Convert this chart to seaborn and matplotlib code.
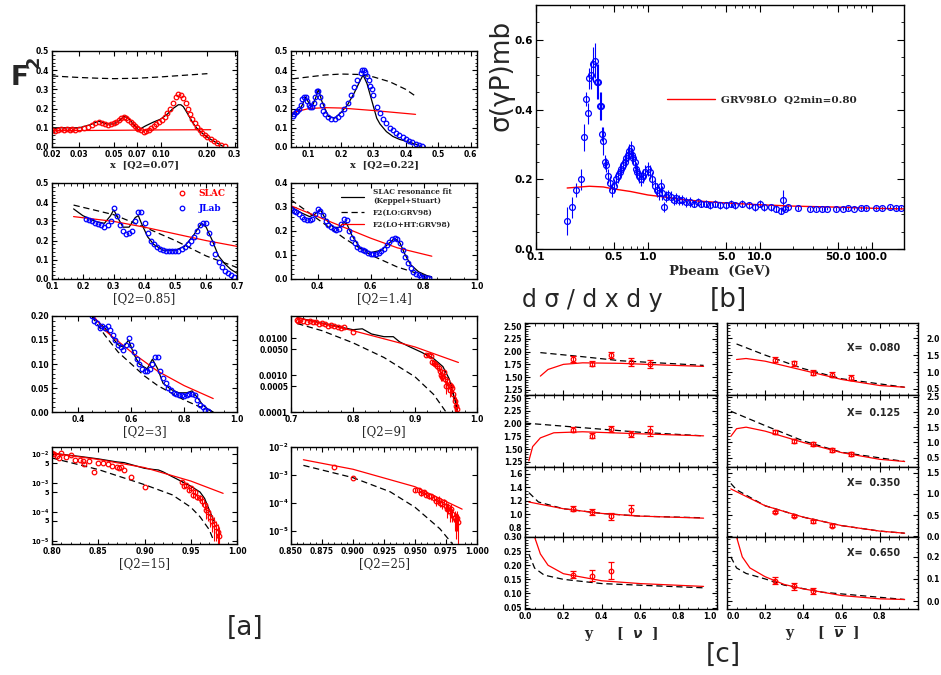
import matplotlib
matplotlib.use("Agg")
import matplotlib.pyplot as plt
import matplotlib.ticker as mticker
from matplotlib.lines import Line2D
import seaborn as sns

# ---------------- panel [a] : F2 vs x ----------------
A1_SLAC_X = [0.020, 0.021, 0.022, 0.023, 0.024, 0.025, 0.026, 0.027, 0.028, 0.030,
             0.032, 0.034, 0.036, 0.038, 0.040, 0.042, 0.044, 0.046, 0.048, 0.050,
             0.052, 0.054, 0.056, 0.058, 0.060, 0.062, 0.064, 0.066, 0.068, 0.070,
             0.072, 0.075, 0.078, 0.081, 0.084, 0.087, 0.090, 0.094, 0.098, 0.102,
             0.106, 0.110, 0.115, 0.120, 0.125, 0.130, 0.135, 0.140, 0.145, 0.150,
             0.155, 0.160, 0.166, 0.172, 0.178, 0.185, 0.192, 0.200, 0.210, 0.220,
             0.232, 0.245, 0.260]
A1_SLAC_Y = [0.090, 0.085, 0.090, 0.095, 0.088, 0.092, 0.090, 0.095, 0.090, 0.095,
             0.100, 0.105, 0.115, 0.125, 0.130, 0.125, 0.120, 0.115, 0.120, 0.125,
             0.130, 0.140, 0.150, 0.155, 0.150, 0.140, 0.130, 0.120, 0.110, 0.100,
             0.095, 0.090, 0.080, 0.085, 0.090, 0.100, 0.110, 0.120, 0.130, 0.140,
             0.155, 0.175, 0.200, 0.230, 0.260, 0.275, 0.270, 0.255, 0.230, 0.200,
             0.170, 0.145, 0.125, 0.105, 0.090, 0.075, 0.060, 0.050, 0.040, 0.030,
             0.020, 0.010, 0.005]
A1_FIT_X = [0.02, 0.025, 0.03, 0.035, 0.04, 0.045, 0.05, 0.055, 0.058, 0.062, 0.066, 0.07,
            0.073, 0.076, 0.08, 0.09, 0.10, 0.11, 0.12, 0.13, 0.135, 0.14, 0.15, 0.16,
            0.17, 0.18, 0.20, 0.22, 0.25]
A1_FIT_Y = [0.10, 0.10, 0.10, 0.115, 0.135, 0.12, 0.12, 0.14, 0.16, 0.15, 0.125, 0.10,
            0.085, 0.10, 0.11, 0.13, 0.145, 0.17, 0.20, 0.22, 0.22, 0.21, 0.17, 0.13,
            0.10, 0.08, 0.05, 0.03, 0.005]
A1_LO_X = [0.02, 0.03, 0.04, 0.05, 0.07, 0.10, 0.15, 0.20]
A1_LO_Y = [0.370, 0.362, 0.358, 0.356, 0.358, 0.365, 0.375, 0.382]
A1_HT_X = [0.02, 0.05, 0.10, 0.21]
A1_HT_Y = [0.085, 0.087, 0.089, 0.090]

A2_JLAB_X = [0.05, 0.055, 0.06, 0.065, 0.07, 0.075, 0.08, 0.085, 0.09, 0.095,
             0.10, 0.105, 0.11, 0.115, 0.12, 0.125, 0.13, 0.135, 0.14, 0.145,
             0.15, 0.16, 0.17, 0.18, 0.19, 0.20, 0.21, 0.22, 0.23, 0.24,
             0.25, 0.26, 0.265, 0.27, 0.275, 0.28, 0.285, 0.29, 0.295, 0.30,
             0.31, 0.32, 0.33, 0.34, 0.35, 0.36, 0.37, 0.38, 0.39, 0.40,
             0.41, 0.42, 0.43, 0.44, 0.45]
A2_JLAB_Y = [0.16, 0.17, 0.18, 0.19, 0.20, 0.22, 0.25, 0.26, 0.26, 0.24,
             0.22, 0.21, 0.21, 0.23, 0.26, 0.29, 0.29, 0.26, 0.22, 0.19,
             0.17, 0.155, 0.145, 0.145, 0.155, 0.17, 0.20, 0.23, 0.27, 0.31,
             0.35, 0.385, 0.40, 0.40, 0.39, 0.37, 0.35, 0.32, 0.30, 0.27,
             0.21, 0.175, 0.145, 0.125, 0.10, 0.09, 0.075, 0.06, 0.05, 0.04,
             0.03, 0.025, 0.015, 0.01, 0.005]
A2_FIT_X = [0.05, 0.07, 0.08, 0.09, 0.10, 0.11, 0.12, 0.13, 0.14, 0.16, 0.18, 0.20, 0.22,
            0.24, 0.26, 0.268, 0.28, 0.29, 0.30, 0.31, 0.32, 0.34, 0.36, 0.38, 0.40, 0.42, 0.44]
A2_FIT_Y = [0.17, 0.19, 0.22, 0.26, 0.23, 0.21, 0.25, 0.30, 0.24, 0.16, 0.15, 0.18, 0.22,
            0.28, 0.35, 0.375, 0.33, 0.27, 0.21, 0.15, 0.12, 0.08, 0.055, 0.04, 0.03, 0.02, 0.01]
A2_LO_X = [0.05, 0.10, 0.15, 0.20, 0.25, 0.30, 0.35, 0.40, 0.43]
A2_LO_Y = [0.355, 0.365, 0.375, 0.380, 0.378, 0.365, 0.340, 0.300, 0.265]
A2_HT_X = [0.05, 0.10, 0.15, 0.20, 0.30, 0.43]
A2_HT_Y = [0.18, 0.20, 0.205, 0.203, 0.19, 0.17]

A3_JLAB_X = [0.21, 0.22, 0.23, 0.24, 0.25, 0.26, 0.27, 0.28, 0.29, 0.30,
             0.31, 0.32, 0.33, 0.34, 0.35, 0.36, 0.37, 0.38, 0.39, 0.40,
             0.41, 0.42, 0.43, 0.44, 0.45, 0.46, 0.47, 0.48, 0.49, 0.50,
             0.51, 0.52, 0.53, 0.54, 0.55, 0.56, 0.57, 0.58, 0.59, 0.60,
             0.61, 0.62, 0.63, 0.64, 0.65, 0.66, 0.67, 0.68, 0.69]
A3_JLAB_Y = [0.31, 0.305, 0.30, 0.29, 0.285, 0.28, 0.27, 0.28, 0.30, 0.37,
             0.33, 0.28, 0.25, 0.235, 0.24, 0.25, 0.30, 0.35, 0.35, 0.29,
             0.24, 0.20, 0.18, 0.165, 0.155, 0.15, 0.148, 0.146, 0.145, 0.145,
             0.148, 0.155, 0.165, 0.18, 0.20, 0.22, 0.25, 0.28, 0.29, 0.29,
             0.24, 0.19, 0.13, 0.09, 0.06, 0.04, 0.03, 0.02, 0.01]
A3_FIT_X = [0.17, 0.20, 0.24, 0.27, 0.29, 0.30, 0.31, 0.33, 0.35, 0.37, 0.38, 0.39, 0.41,
            0.43, 0.46, 0.50, 0.53, 0.56, 0.585, 0.60, 0.62, 0.64, 0.66, 0.68, 0.70]
A3_FIT_Y = [0.365, 0.33, 0.30, 0.29, 0.33, 0.36, 0.33, 0.27, 0.27, 0.32, 0.33, 0.29, 0.22,
            0.18, 0.15, 0.15, 0.17, 0.23, 0.29, 0.27, 0.20, 0.12, 0.08, 0.05, 0.03]
A3_LO_X = [0.17, 0.30, 0.40, 0.50, 0.60, 0.70]
A3_LO_Y = [0.385, 0.335, 0.27, 0.20, 0.12, 0.06]
A3_HT_X = [0.17, 0.30, 0.40, 0.50, 0.60, 0.70]
A3_HT_Y = [0.325, 0.30, 0.27, 0.235, 0.20, 0.17]

A4_JLAB_X = [0.30, 0.31, 0.32, 0.33, 0.34, 0.35, 0.36, 0.37, 0.38, 0.39,
             0.40, 0.41, 0.42, 0.43, 0.44, 0.45, 0.46, 0.47, 0.48, 0.49,
             0.50, 0.51, 0.52, 0.53, 0.54, 0.55, 0.56, 0.57, 0.58, 0.59,
             0.60, 0.61, 0.62, 0.63, 0.64, 0.65, 0.66, 0.67, 0.68, 0.69,
             0.70, 0.71, 0.72, 0.73, 0.74, 0.75, 0.76, 0.77, 0.78, 0.79,
             0.80, 0.81, 0.82]
A4_JLAB_Y = [0.29, 0.285, 0.28, 0.27, 0.26, 0.25, 0.245, 0.245, 0.25, 0.27,
             0.29, 0.285, 0.265, 0.24, 0.225, 0.215, 0.21, 0.205, 0.21, 0.23,
             0.25, 0.245, 0.20, 0.17, 0.15, 0.135, 0.125, 0.12, 0.115, 0.11,
             0.105, 0.105, 0.105, 0.11, 0.115, 0.125, 0.14, 0.155, 0.165, 0.17,
             0.165, 0.15, 0.12, 0.09, 0.065, 0.045, 0.03, 0.02, 0.015, 0.01,
             0.008, 0.006, 0.005]
A4_FIT_X = [0.30, 0.34, 0.37, 0.39, 0.41, 0.43, 0.46, 0.48, 0.50, 0.51, 0.53, 0.56, 0.60,
            0.64, 0.67, 0.69, 0.71, 0.73, 0.75, 0.78, 0.81, 0.83]
A4_FIT_Y = [0.30, 0.275, 0.26, 0.27, 0.29, 0.25, 0.215, 0.215, 0.235, 0.23, 0.18, 0.13, 0.11,
            0.12, 0.15, 0.17, 0.15, 0.10, 0.06, 0.03, 0.015, 0.008]
A4_LO_X = [0.30, 0.40, 0.50, 0.60, 0.70, 0.80, 0.83]
A4_LO_Y = [0.33, 0.25, 0.17, 0.10, 0.05, 0.015, 0.008]
A4_HT_X = [0.30, 0.40, 0.50, 0.60, 0.70, 0.83]
A4_HT_Y = [0.305, 0.26, 0.215, 0.17, 0.13, 0.095]

A5_JLAB_X = [0.45, 0.46, 0.47, 0.48, 0.49, 0.50, 0.51, 0.52, 0.53, 0.54,
             0.55, 0.56, 0.57, 0.58, 0.59, 0.60, 0.61, 0.62, 0.63, 0.64,
             0.65, 0.66, 0.67, 0.68, 0.69, 0.70, 0.71, 0.72, 0.73, 0.74,
             0.75, 0.76, 0.77, 0.78, 0.79, 0.80, 0.81, 0.82, 0.83, 0.84,
             0.85, 0.86, 0.87, 0.88, 0.89]
A5_JLAB_Y = [0.20, 0.19, 0.185, 0.175, 0.18, 0.175, 0.18, 0.17, 0.16, 0.15,
             0.14, 0.135, 0.13, 0.14, 0.155, 0.14, 0.125, 0.11, 0.10, 0.09,
             0.085, 0.085, 0.09, 0.10, 0.115, 0.115, 0.085, 0.07, 0.06, 0.05,
             0.045, 0.04, 0.037, 0.035, 0.035, 0.034, 0.036, 0.038, 0.037, 0.035,
             0.025, 0.015, 0.01, 0.005, 0.003]
A5_FIT_X = [0.45, 0.50, 0.55, 0.57, 0.59, 0.61, 0.63, 0.66, 0.68, 0.70, 0.72, 0.75, 0.78,
            0.81, 0.83, 0.85, 0.87, 0.89, 0.91]
A5_FIT_Y = [0.20, 0.175, 0.14, 0.135, 0.15, 0.12, 0.10, 0.09, 0.11, 0.09, 0.06, 0.047, 0.04,
            0.04, 0.044, 0.03, 0.015, 0.006, 0.0]
A5_LO_X = [0.45, 0.50, 0.55, 0.60, 0.65, 0.70, 0.75, 0.80, 0.85, 0.90]
A5_LO_Y = [0.20, 0.16, 0.125, 0.10, 0.075, 0.055, 0.04, 0.025, 0.013, 0.003]
A5_HT_X = [0.45, 0.50, 0.60, 0.70, 0.80, 0.91]
A5_HT_Y = [0.205, 0.17, 0.125, 0.085, 0.055, 0.028]

A6_SLAC_X = [0.71, 0.712, 0.715, 0.72, 0.725, 0.73, 0.735, 0.74, 0.745, 0.75,
             0.755, 0.76, 0.765, 0.77, 0.775, 0.78, 0.785, 0.80]
A6_SLAC_Y = [0.032, 0.030, 0.031, 0.030, 0.028, 0.029, 0.027, 0.028, 0.025, 0.026,
             0.024, 0.022, 0.023, 0.021, 0.020, 0.019, 0.020, 0.015]
A6_HI_X = [0.918, 0.922, 0.925, 0.928, 0.930, 0.932, 0.935, 0.938, 0.940, 0.942,
           0.944, 0.946, 0.948, 0.950, 0.952, 0.954, 0.956, 0.958, 0.960, 0.962,
           0.964, 0.966, 0.968]
A6_HI_Y = [0.0035, 0.0034, 0.0032, 0.0022, 0.0021, 0.0020, 0.0018, 0.0016, 0.0013, 0.0010,
           0.0009, 0.0012, 0.0008, 0.0005, 0.0007, 0.0005, 0.0004, 0.0005, 0.00045, 0.0003,
           0.0002, 0.00015, 0.00012]
A6_HI_ERR = [0.0003, 0.0003, 0.0003, 0.0003, 0.0003, 0.0003, 0.0003, 0.0003, 0.0003, 0.0003,
             0.0002, 0.0003, 0.0002, 0.0002, 0.0002, 0.00015, 0.00015, 0.00015, 0.00015, 0.0001,
             0.0001, 0.0001, 0.00008]
A6_FIT_X = [0.71, 0.74, 0.78, 0.80, 0.815, 0.83, 0.85, 0.865, 0.875, 0.89, 0.91, 0.93,
            0.945, 0.955, 0.962, 0.968]
A6_FIT_Y = [0.036, 0.028, 0.020, 0.017, 0.018, 0.013, 0.011, 0.011, 0.008, 0.006, 0.0042,
            0.0028, 0.0017, 0.0008, 0.0003, 0.00012]
A6_LO_X = [0.71, 0.75, 0.80, 0.85, 0.90, 0.93, 0.95]
A6_LO_Y = [0.025, 0.016, 0.0075, 0.003, 0.0009, 0.0003, 0.0001]
A6_HT_X = [0.71, 0.80, 0.90, 0.97]
A6_HT_Y = [0.036, 0.016, 0.0058, 0.0022]

A7_SLAC_X = [0.800, 0.802, 0.805, 0.808, 0.810, 0.815, 0.820, 0.825, 0.830, 0.833,
             0.835, 0.840, 0.845, 0.850, 0.855, 0.860, 0.865, 0.870, 0.872, 0.875,
             0.878, 0.885, 0.900]
A7_SLAC_Y = [0.011, 0.010, 0.0085, 0.0075, 0.011, 0.008, 0.0095, 0.0065, 0.0063, 0.006,
             0.0045, 0.006, 0.0025, 0.0052, 0.005, 0.0047, 0.004, 0.0038, 0.0033, 0.0036,
             0.003, 0.0017, 0.00075]
A7_HI_X = [0.940, 0.943, 0.945, 0.948, 0.950, 0.952, 0.955, 0.957, 0.960, 0.962,
           0.965, 0.967, 0.969, 0.971, 0.973, 0.975, 0.977, 0.979, 0.981]
A7_HI_Y = [0.0011, 0.0008, 0.0009, 0.0006, 0.0007, 0.0004, 0.0005, 0.00035, 0.0003, 0.00025,
           0.00018, 0.00012, 0.0001, 0.00007, 0.00005, 0.00004, 0.00003, 0.00002, 0.000015]
A7_HI_ERR = [0.0001, 0.0001, 0.0001, 0.0001, 0.0001, 0.0001, 0.0001, 0.00008, 0.00008, 0.00008,
             0.00006, 0.00006, 0.00005, 0.00004, 0.00003, 0.00003, 0.00002, 0.00002, 0.000015]
A7_FIT_X = [0.80, 0.83, 0.85, 0.87, 0.878, 0.885, 0.90, 0.91, 0.915, 0.92, 0.93, 0.95,
            0.96, 0.965, 0.97, 0.975]
A7_FIT_Y = [0.011, 0.0085, 0.007, 0.0055, 0.0052, 0.0045, 0.0033, 0.0030, 0.0029, 0.0025,
            0.0017, 0.0008, 0.0005, 0.0003, 0.00012, 0.00005]
A7_LO_X = [0.80, 0.85, 0.90, 0.93, 0.95, 0.96, 0.97, 0.975]
A7_LO_Y = [0.0075, 0.003, 0.0009, 0.0004, 0.00015, 0.00007, 0.000025, 0.00001]
A7_HT_X = [0.80, 0.85, 0.90, 0.95, 0.985]
A7_HT_Y = [0.011, 0.0067, 0.0035, 0.0012, 0.00045]

A8_SLAC_X = [0.885, 0.900]
A8_SLAC_Y = [0.0019, 0.0008]
A8_HI_X = [0.950, 0.953, 0.955, 0.957, 0.959, 0.961, 0.963, 0.965, 0.967, 0.969,
           0.970, 0.972, 0.973, 0.975, 0.976, 0.977, 0.978, 0.979, 0.980, 0.982,
           0.983, 0.984, 0.985]
A8_HI_Y = [0.0003, 0.00028, 0.00022, 0.00024, 0.0002, 0.00018, 0.00017, 0.00015, 0.00012, 0.00013,
           0.0001, 0.00009, 0.00011, 0.00008, 0.00006, 0.00007, 0.00005, 0.00006, 0.00004, 0.00003,
           0.000025, 0.00003, 0.00002]
A8_HI_ERR = [0.00005, 0.00005, 0.00004, 0.00004, 0.00004, 0.00004, 0.00004, 0.00004, 0.00004, 0.00004,
             0.00003, 0.00003, 0.00003, 0.00003, 0.00003, 0.00003, 0.00003, 0.00003, 0.00002, 0.00002,
             0.00002, 0.00002, 0.00002]
A8_LO_X = [0.86, 0.90, 0.93, 0.95, 0.97, 0.98]
A8_LO_Y = [0.0022, 0.0008, 0.00025, 0.00007, 0.000012, 0.0000035]
A8_HT_X = [0.86, 0.90, 0.95, 0.988]
A8_HT_Y = [0.0035, 0.0016, 0.00038, 0.00006]

# ---------------- panel [b] : photoproduction cross section ----------------
B_PBEAM = [0.19, 0.21, 0.23, 0.25, 0.27, 0.28, 0.29, 0.30, 0.31, 0.32,
           0.335, 0.35, 0.36, 0.37, 0.38, 0.39, 0.40, 0.41, 0.42, 0.44,
           0.46, 0.48, 0.50, 0.52, 0.54, 0.56, 0.58, 0.60, 0.62, 0.64,
           0.66, 0.68, 0.70, 0.72, 0.74, 0.76, 0.78, 0.80, 0.83, 0.86,
           0.90, 0.95, 1.00, 1.05, 1.10, 1.15, 1.20, 1.25, 1.30, 1.35,
           1.40, 1.45, 1.50, 1.60, 1.70, 1.80, 1.90, 2.00, 2.20, 2.40,
           2.60, 2.80, 3.00, 3.30, 3.60, 4.00, 4.40, 5.00, 5.50, 6.00,
           7.00, 8.00, 9.00, 10.0, 11.0, 12.5, 14.0, 15.5, 16.0, 17.0,
           18.0, 22.0, 28.0, 32.0, 36.0, 40.0, 48.0, 55.0, 62.0, 70.0,
           80.0, 90.0, 110.0, 125.0, 145.0, 165.0, 185.0]
B_SIGMA = [0.08, 0.12, 0.17, 0.20, 0.32, 0.43, 0.39, 0.49, 0.50, 0.53,
           0.54, 0.48, 0.48, 0.41, 0.41, 0.33, 0.31, 0.25, 0.24, 0.21,
           0.19, 0.17, 0.18, 0.20, 0.21, 0.22, 0.23, 0.24, 0.25, 0.26,
           0.27, 0.28, 0.29, 0.27, 0.26, 0.25, 0.23, 0.22, 0.21, 0.20,
           0.21, 0.22, 0.23, 0.22, 0.20, 0.18, 0.17, 0.16, 0.18, 0.16,
           0.12, 0.15, 0.155, 0.15, 0.14, 0.145, 0.14, 0.14, 0.135, 0.135,
           0.13, 0.135, 0.13, 0.13, 0.125, 0.13, 0.125, 0.125, 0.13, 0.125,
           0.13, 0.125, 0.12, 0.13, 0.12, 0.12, 0.115, 0.11, 0.14, 0.115,
           0.12, 0.117, 0.115, 0.115, 0.115, 0.116, 0.115, 0.116, 0.117, 0.116,
           0.117, 0.118, 0.117, 0.118, 0.12, 0.118, 0.119]
B_ERR = [0.04, 0.03, 0.02, 0.03, 0.04, 0.02, 0.03, 0.03, 0.04, 0.05,
         0.05, 0.05, 0.05, 0.04, 0.04, 0.02, 0.04, 0.02, 0.02, 0.02,
         0.02, 0.02, 0.02, 0.02, 0.02, 0.02, 0.02, 0.02, 0.02, 0.02,
         0.02, 0.02, 0.02, 0.02, 0.02, 0.02, 0.02, 0.02, 0.02, 0.02,
         0.02, 0.02, 0.02, 0.02, 0.02, 0.02, 0.02, 0.02, 0.02, 0.02,
         0.015, 0.015, 0.015, 0.015, 0.015, 0.015, 0.015, 0.015, 0.015, 0.015,
         0.01, 0.01, 0.01, 0.01, 0.01, 0.01, 0.01, 0.01, 0.01, 0.01,
         0.01, 0.01, 0.01, 0.01, 0.01, 0.01, 0.01, 0.01, 0.03, 0.005,
         0.005, 0.005, 0.005, 0.005, 0.005, 0.005, 0.005, 0.005, 0.005, 0.005,
         0.005, 0.005, 0.005, 0.005, 0.005, 0.005, 0.005]
B_GRV_X = [0.19, 0.25, 0.30, 0.40, 0.50, 0.70, 1.0, 1.5, 2.0, 3.0, 5.0, 10.0, 20.0, 50.0, 100.0, 195.0]
B_GRV_Y = [0.175, 0.178, 0.180, 0.178, 0.172, 0.165, 0.155, 0.148, 0.142, 0.137, 0.132, 0.127,
           0.123, 0.120, 0.117, 0.115]

# ---------------- panel [c] : d sigma / dx dy ----------------
C_Y_DATA = [0.25, 0.35, 0.45, 0.55, 0.65]
C_NU_080 = [1.86, 1.76, 1.93, 1.80, 1.75]
C_NU_080_ERR = [0.06, 0.05, 0.06, 0.08, 0.08]
C_NU_125 = [1.88, 1.76, 1.89, 1.79, 1.86]
C_NU_125_ERR = [0.05, 0.05, 0.06, 0.06, 0.10]
C_NU_350 = [1.08, 1.03, 0.97, 1.06]
C_NU_350_ERR = [0.04, 0.04, 0.05, 0.07]
C_NU_650 = [0.167, 0.163, 0.180]
C_NU_650_ERR = [0.012, 0.020, 0.030]
C_NB_080 = [1.37, 1.26, 0.98, 0.92, 0.83]
C_NB_080_ERR = [0.08, 0.07, 0.07, 0.07, 0.07]
C_NB_125 = [1.35, 1.05, 0.95, 0.75, 0.62]
C_NB_125_ERR = [0.06, 0.06, 0.06, 0.06, 0.06]
C_NB_350 = [0.57, 0.48, 0.35, 0.25]
C_NB_350_ERR = [0.03, 0.03, 0.03, 0.03]
C_NB_650 = [0.092, 0.066, 0.045]
C_NB_650_ERR = [0.015, 0.015, 0.015]

C_NU_080_HT = ([0.08, 0.12, 0.20, 0.30, 0.50, 0.70, 0.93], [1.52, 1.65, 1.75, 1.78, 1.77, 1.74, 1.71])
C_NU_080_LO = ([0.08, 0.30, 0.50, 0.93], [1.98, 1.90, 1.82, 1.73])
C_NU_125_HT = ([0.02, 0.04, 0.08, 0.15, 0.30, 0.60, 0.93], [1.27, 1.55, 1.72, 1.82, 1.84, 1.80, 1.76])
C_NU_125_LO = ([0.0, 0.30, 0.60, 0.93], [2.01, 1.92, 1.83, 1.76])
C_NU_350_HT = ([0.02, 0.20, 0.40, 0.60, 0.93], [1.18, 1.08, 1.01, 0.97, 0.94])
C_NU_350_LO = ([0.02, 0.07, 0.20, 0.40, 0.60, 0.93], [1.32, 1.18, 1.08, 1.01, 0.97, 0.945])
C_NU_650_HT = ([0.05, 0.08, 0.12, 0.20, 0.40, 0.60, 0.93], [0.30, 0.24, 0.20, 0.17, 0.145, 0.135, 0.125])
C_NU_650_LO = ([0.02, 0.05, 0.10, 0.20, 0.40, 0.93], [0.24, 0.19, 0.165, 0.15, 0.135, 0.12])
C_NB_080_HT = ([0.05, 0.10, 0.20, 0.40, 0.60, 0.80, 0.93], [1.37, 1.40, 1.32, 1.05, 0.78, 0.60, 0.55])
C_NB_080_LO = ([0.05, 0.20, 0.40, 0.60, 0.93], [1.83, 1.50, 1.10, 0.80, 0.55])
C_NB_125_HT = ([0.02, 0.05, 0.10, 0.20, 0.40, 0.60, 0.80, 0.93], [1.20, 1.45, 1.50, 1.37, 1.00, 0.67, 0.45, 0.38])
C_NB_125_LO = ([0.02, 0.20, 0.40, 0.60, 0.93], [2.02, 1.55, 1.05, 0.68, 0.38])
C_NB_350_HT = ([0.02, 0.20, 0.40, 0.60, 0.80, 0.93], [1.12, 0.72, 0.45, 0.25, 0.12, 0.07])
C_NB_350_LO = ([0.02, 0.05, 0.20, 0.40, 0.60, 0.80, 0.93], [1.25, 1.10, 0.72, 0.45, 0.25, 0.12, 0.07])
C_NB_650_HT = ([0.05, 0.08, 0.12, 0.20, 0.30, 0.40, 0.60, 0.80, 0.93],
               [0.29, 0.20, 0.15, 0.11, 0.075, 0.055, 0.025, 0.010, 0.007])
C_NB_650_LO = ([0.02, 0.05, 0.10, 0.20, 0.30, 0.50, 0.93], [0.20, 0.15, 0.125, 0.10, 0.072, 0.04, 0.007])

W, H = 941, 675

sns.set_style("ticks")
plt.rcParams.update({
    "font.family": ["DejaVu Sans"],
    "font.weight": "bold",
    "axes.edgecolor": "black",
    "axes.linewidth": 1.0,
    "xtick.color": "black", "ytick.color": "black",
    "xtick.direction": "in", "ytick.direction": "in",
    "xtick.top": True, "ytick.right": True,
    "xtick.minor.visible": True, "ytick.minor.visible": True,
    "xtick.major.size": 3.5, "ytick.major.size": 3.5,
    "xtick.minor.size": 1.8, "ytick.minor.size": 1.8,
    "xtick.major.pad": 2, "ytick.major.pad": 2,
    "xtick.labelsize": 5.5, "ytick.labelsize": 5.5,
})

fig = plt.figure(figsize=(W / 100, H / 100), dpi=100)
fig.patch.set_facecolor("white")

SERIF = {"family": "DejaVu Serif", "weight": "bold"}


def box(l, t, r, b):
    return fig.add_axes([l / W, 1 - b / H, (r - l) / W, (b - t) / H])


def curve(ax, x, y, color="black", ls="-", lw=0.9):
    sns.lineplot(x=x, y=y, ax=ax, color=color, linestyle=ls, linewidth=lw,
                 sort=False, estimator=None, errorbar=None)


def dots(ax, x, y, color, err=None, cap=0, ms=3.3):
    ax.errorbar(x, y, yerr=err, fmt="o", mfc="none", mec=color, ecolor=color,
                ms=ms, mew=0.9, elinewidth=0.8, capsize=cap, capthick=0.8)


def fmt(ax, axis, f):
    getattr(ax, axis + "axis").set_major_formatter(mticker.FormatStrFormatter(f))


DASH = (0, (5, 3))

# ----- [a] row 1 -----
ax = box(52, 51, 237, 147)
ax.set_xscale("log")
dots(ax, A1_SLAC_X, A1_SLAC_Y, "red")
curve(ax, A1_FIT_X, A1_FIT_Y)
curve(ax, A1_LO_X, A1_LO_Y, ls=DASH)
curve(ax, A1_HT_X, A1_HT_Y, color="red")
ax.set_xlim(0.02, 0.31)
ax.set_xticks([0.02, 0.03, 0.05, 0.07, 0.10, 0.20, 0.30])
ax.set_xticklabels(["0.02", "0.03", "0.05", "0.07", "0.10", "0.20", "0.3"])
ax.xaxis.set_minor_formatter(mticker.NullFormatter())
ax.set_ylim(0, 0.5)
ax.set_yticks([0, 0.1, 0.2, 0.3, 0.4, 0.5])
fmt(ax, "y", "%.1f")
ax.set_xlabel("x  [Q2=0.07]", fontdict=SERIF, fontsize=7, labelpad=1)

ax = box(291, 51, 477, 147)
dots(ax, A2_JLAB_X, A2_JLAB_Y, "blue")
curve(ax, A2_FIT_X, A2_FIT_Y)
curve(ax, A2_LO_X, A2_LO_Y, ls=DASH)
curve(ax, A2_HT_X, A2_HT_Y, color="red")
ax.set_xlim(0.045, 0.62)
ax.set_xticks([0.1, 0.2, 0.3, 0.4, 0.5, 0.6])
fmt(ax, "x", "%.1f")
ax.set_ylim(0, 0.5)
ax.set_yticks([0, 0.1, 0.2, 0.3, 0.4, 0.5])
fmt(ax, "y", "%.1f")
ax.set_xlabel("x  [Q2=0.22]", fontdict=SERIF, fontsize=7, labelpad=1)

# ----- [a] row 2 -----
ax = box(52, 183, 237, 279)
dots(ax, A3_JLAB_X, A3_JLAB_Y, "blue")
curve(ax, A3_FIT_X, A3_FIT_Y)
curve(ax, A3_LO_X, A3_LO_Y, ls=DASH)
curve(ax, A3_HT_X, A3_HT_Y, color="red")
ax.set_xlim(0.1, 0.7)
ax.set_xticks([0.1, 0.2, 0.3, 0.4, 0.5, 0.6, 0.7])
fmt(ax, "x", "%.1f")
ax.set_ylim(0, 0.5)
ax.set_yticks([0, 0.1, 0.2, 0.3, 0.4, 0.5])
fmt(ax, "y", "%.1f")
ax.set_xlabel("[Q2=0.85]", family="DejaVu Serif", fontsize=8.5, weight="normal", labelpad=1)
hnd = [Line2D([], [], ls="", marker="o", mfc="none", mec="red", ms=3.3, mew=0.9),
       Line2D([], [], ls="", marker="o", mfc="none", mec="blue", ms=3.3, mew=0.9)]
ax.legend(hnd, ["SLAC", "JLab"], loc="upper left", bbox_to_anchor=(0.62, 1.0), frameon=False,
          labelcolor="mec", prop={"family": "DejaVu Serif", "weight": "bold", "size": 6.5},
          handletextpad=0.8, labelspacing=0.6, borderaxespad=0.3)

ax = box(291, 183, 477, 279)
dots(ax, A4_JLAB_X, A4_JLAB_Y, "blue")
curve(ax, A4_FIT_X, A4_FIT_Y)
curve(ax, A4_LO_X, A4_LO_Y, ls=DASH)
curve(ax, A4_HT_X, A4_HT_Y, color="red")
ax.set_xlim(0.3, 1.0)
ax.set_xticks([0.4, 0.6, 0.8, 1.0])
fmt(ax, "x", "%.1f")
ax.set_ylim(0, 0.4)
ax.set_yticks([0, 0.1, 0.2, 0.3, 0.4])
fmt(ax, "y", "%.1f")
ax.set_xlabel("[Q2=1.4]", family="DejaVu Serif", fontsize=8.5, weight="normal", labelpad=1)
hnd = [Line2D([], [], color="black", lw=0.9),
       Line2D([], [], color="black", lw=0.9, ls=DASH),
       Line2D([], [], color="red", lw=0.9)]
ax.legend(hnd, ["SLAC resonance fit\n(Keppel+Stuart)", "F2(LO:GRV98)", "F2(LO+HT:GRV98)"],
          loc="upper left", bbox_to_anchor=(0.24, 1.0), frameon=False,
          prop={"family": "DejaVu Serif", "weight": "bold", "size": 5.3},
          handlelength=3.2, handletextpad=1.2, labelspacing=0.5, borderaxespad=0.3)

# ----- [a] row 3 -----
ax = box(52, 316, 237, 412)
dots(ax, A5_JLAB_X, A5_JLAB_Y, "blue")
curve(ax, A5_FIT_X, A5_FIT_Y)
curve(ax, A5_LO_X, A5_LO_Y, ls=DASH)
curve(ax, A5_HT_X, A5_HT_Y, color="red")
ax.set_xlim(0.3, 1.0)
ax.set_xticks([0.4, 0.6, 0.8, 1.0])
fmt(ax, "x", "%.1f")
ax.set_ylim(0, 0.2)
ax.set_yticks([0, 0.05, 0.10, 0.15, 0.20])
fmt(ax, "y", "%.2f")
ax.set_xlabel("[Q2=3]", family="DejaVu Serif", fontsize=8.5, weight="normal", labelpad=1)

ax = box(291, 316, 477, 412)
ax.set_yscale("log")
dots(ax, A6_SLAC_X, A6_SLAC_Y, "red")
dots(ax, A6_HI_X, A6_HI_Y, "red", err=A6_HI_ERR)
curve(ax, A6_FIT_X, A6_FIT_Y)
curve(ax, A6_LO_X, A6_LO_Y, ls=DASH)
curve(ax, A6_HT_X, A6_HT_Y, color="red")
ax.set_xlim(0.7, 1.0)
ax.set_xticks([0.7, 0.8, 0.9, 1.0])
fmt(ax, "x", "%.1f")
ax.set_ylim(1e-4, 0.04)
ax.set_yticks([1e-4, 5e-4, 1e-3, 5e-3, 1e-2])
ax.set_yticklabels(["0.0001", "0.0005", "0.0010", "0.0050", "0.0100"])
ax.yaxis.set_minor_locator(mticker.NullLocator())
ax.set_xlabel("[Q2=9]", family="DejaVu Serif", fontsize=8.5, weight="normal", labelpad=1)

# ----- [a] row 4 -----
POW = [r"$\mathbf{10^{-5}}$", "5", r"$\mathbf{10^{-4}}$", "5", r"$\mathbf{10^{-3}}$", "5",
       r"$\mathbf{10^{-2}}$"]
ax = box(52, 447, 237, 544)
ax.set_yscale("log")
dots(ax, A7_SLAC_X, A7_SLAC_Y, "red")
dots(ax, A7_HI_X, A7_HI_Y, "red", err=A7_HI_ERR)
curve(ax, A7_FIT_X, A7_FIT_Y)
curve(ax, A7_LO_X, A7_LO_Y, ls=DASH)
curve(ax, A7_HT_X, A7_HT_Y, color="red")
ax.set_xlim(0.8, 1.0)
ax.set_xticks([0.80, 0.85, 0.90, 0.95, 1.00])
fmt(ax, "x", "%.2f")
ax.set_ylim(8e-6, 1.8e-2)
ax.set_yticks([1e-5, 5e-5, 1e-4, 5e-4, 1e-3, 5e-3, 1e-2])
ax.set_yticklabels(POW)
ax.tick_params(axis="y", labelsize=4.8)
ax.yaxis.set_minor_locator(mticker.NullLocator())
ax.set_xlabel("[Q2=15]", family="DejaVu Serif", fontsize=8.5, weight="normal", labelpad=1)

ax = box(291, 447, 477, 544)
ax.set_yscale("log")
dots(ax, A8_SLAC_X, A8_SLAC_Y, "red")
dots(ax, A8_HI_X, A8_HI_Y, "red", err=A8_HI_ERR)
curve(ax, A8_LO_X, A8_LO_Y, ls=DASH)
curve(ax, A8_HT_X, A8_HT_Y, color="red")
ax.set_xlim(0.85, 1.0)
ax.set_xticks([0.850, 0.875, 0.900, 0.925, 0.950, 0.975, 1.000])
fmt(ax, "x", "%.3f")
ax.set_ylim(3.4e-6, 1e-2)
ax.set_yticks([1e-5, 1e-4, 1e-3, 1e-2])
ax.set_yticklabels([POW[0], POW[2], POW[4], POW[6]])
ax.yaxis.set_minor_locator(mticker.NullLocator())
ax.set_xlabel("[Q2=25]", family="DejaVu Serif", fontsize=8.5, weight="normal", labelpad=1)

fig.text(20 / W, 1 - 78 / H, "F", fontsize=19, weight="bold", ha="center", va="center")
fig.text(34 / W, 1 - 62 / H, "2", fontsize=13, weight="bold", rotation=90, ha="center", va="center")
fig.text(245 / W, 1 - 628 / H, "[a]", fontsize=19, weight="normal", ha="center", va="center")

# ----- [b] -----
ax = box(536, 5, 904, 249)
ax.set_xscale("log")
ax.errorbar(B_PBEAM, B_SIGMA, yerr=B_ERR, fmt="o", mfc="none", mec="blue", ecolor="blue",
            ms=4.2, mew=0.9, elinewidth=0.8, capsize=0)
curve(ax, B_GRV_X, B_GRV_Y, color="red", lw=1.0)
ax.set_xlim(0.1, 195)
ax.set_xticks([0.1, 0.5, 1, 5, 10, 50, 100])
ax.set_xticklabels(["0.1", "0.5", "1.0", "5.0", "10.0", "50.0", "100.0"])
ax.xaxis.set_minor_formatter(mticker.NullFormatter())
ax.set_ylim(0, 0.7)
ax.set_yticks([0, 0.2, 0.4, 0.6])
fmt(ax, "y", "%.1f")
ax.tick_params(labelsize=7.5, length=5)
ax.tick_params(which="minor", length=2.5)
ax.set_xlabel("Pbeam  (GeV)", family="DejaVu Serif", weight="bold", fontsize=9.5, labelpad=2)
ax.legend([Line2D([], [], color="red", lw=1.0)], ["GRV98LO  Q2min=0.80"], loc="center left",
          bbox_to_anchor=(0.33, 0.61), frameon=False, handlelength=4.6, handletextpad=0.6,
          prop={"family": "DejaVu Serif", "weight": "bold", "size": 7.5})
fig.text(502 / W, 1 - 75 / H, "σ(γP)mb", fontsize=19, weight="normal", rotation=90,
         ha="center", va="center")
fig.text(728 / W, 1 - 300 / H, "[b]", fontsize=19, weight="normal", ha="center", va="center")

# ----- [c] -----
fig.text(592 / W, 1 - 300 / H, "d σ / d x d y", fontsize=17, weight="normal", ha="center", va="center")
fig.text(723 / W, 1 - 655 / H, "[c]", fontsize=19, weight="normal", ha="center", va="center")

ROWS = [(323, 395), (395, 467), (467, 537), (537, 609)]
LEFT = [
    (C_NU_080, C_NU_080_ERR, C_NU_080_HT, C_NU_080_LO, (1.15, 2.56),
     [1.25, 1.5, 1.75, 2.0, 2.25, 2.5], "%.2f"),
    (C_NU_125, C_NU_125_ERR, C_NU_125_HT, C_NU_125_LO, (1.15, 2.56),
     [1.25, 1.5, 1.75, 2.0, 2.25, 2.5], "%.2f"),
    (C_NU_350, C_NU_350_ERR, C_NU_350_HT, C_NU_350_LO, (0.66, 1.7),
     [0.8, 1.0, 1.2, 1.4, 1.6], "%.1f"),
    (C_NU_650, C_NU_650_ERR, C_NU_650_HT, C_NU_650_LO, (0.045, 0.30),
     [0.05, 0.10, 0.15, 0.20, 0.25, 0.30], "%.2f"),
]
RIGHT = [
    (C_NB_080, C_NB_080_ERR, C_NB_080_HT, C_NB_080_LO, (0.32, 2.45), [0.5, 1.0, 1.5, 2.0], "X=  0.080"),
    (C_NB_125, C_NB_125_ERR, C_NB_125_HT, C_NB_125_LO, (0.2, 2.55), [0.5, 1.0, 1.5, 2.0, 2.5], "X=  0.125"),
    (C_NB_350, C_NB_350_ERR, C_NB_350_HT, C_NB_350_LO, (-0.02, 1.64), [0.0, 0.5, 1.0, 1.5], "X=  0.350"),
    (C_NB_650, C_NB_650_ERR, C_NB_650_HT, C_NB_650_LO, (-0.036, 0.29), [0.0, 0.1, 0.2], "X=  0.650"),
]
XPOS = [0.65, 0.75, 0.77, 0.78]

for i, (t, b) in enumerate(ROWS):
    vals, err, ht, lo, ylim, yt, yf = LEFT[i]
    ax = box(525, t, 717, b)
    curve(ax, lo[0], lo[1], ls=DASH)
    curve(ax, ht[0], ht[1], color="red")
    dots(ax, C_Y_DATA[:len(vals)], vals, "red", err=err, cap=2)
    ax.set_xlim(0, 1.0)
    ax.set_xticks([0, 0.2, 0.4, 0.6, 0.8, 1.0])
    fmt(ax, "x", "%.1f")
    ax.set_ylim(*ylim)
    ax.set_yticks(yt)
    fmt(ax, "y", yf)
    if i < 3:
        ax.tick_params(axis="x", labelbottom=False)
    else:
        ax.set_xlabel(r"y     [  $\nu$  ]", family="DejaVu Serif", weight="bold", fontsize=10, labelpad=3)
        ax.get_xticklabels()[-1].set_horizontalalignment("right")

    vals, err, ht, lo, ylim, yt, lab = RIGHT[i]
    ax = box(727, t, 918, b)
    curve(ax, lo[0], lo[1], ls=DASH)
    curve(ax, ht[0], ht[1], color="red")
    dots(ax, C_Y_DATA[:len(vals)], vals, "red", err=err, cap=2)
    ax.set_xlim(0, 1.0)
    ax.set_xticks([0, 0.2, 0.4, 0.6, 0.8])
    fmt(ax, "x", "%.1f")
    ax.set_ylim(*ylim)
    ax.set_yticks(yt)
    fmt(ax, "y", "%.1f")
    ax.tick_params(axis="y", labelleft=False, labelright=True, pad=6)
    ax.text(0.63, XPOS[i], lab, transform=ax.transAxes, fontsize=7, weight="bold", va="center")
    if i < 3:
        ax.tick_params(axis="x", labelbottom=False)
    else:
        ax.set_xlabel(r"y     [  $\overline{\nu}$  ]", family="DejaVu Serif", weight="bold",
                      fontsize=10, labelpad=3)
        ax.get_xticklabels()[0].set_horizontalalignment("left")

fig.savefig("out.png", dpi=100, facecolor="white")
